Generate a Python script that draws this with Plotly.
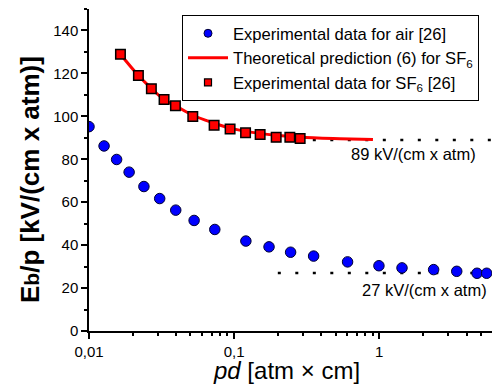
import plotly.graph_objects as go

# Air experimental data
air_pd = [0.01, 0.0127, 0.0155, 0.0189, 0.0239, 0.0307, 0.0396, 0.053, 0.0736, 0.1205,
          0.174, 0.245, 0.353, 0.605, 0.995, 1.435, 2.37, 3.42, 4.72, 5.5]
air_E = [95.2, 86.2, 79.9, 74.0, 67.3, 61.7, 56.3, 51.5, 47.3, 41.9,
         39.2, 36.7, 34.9, 32.2, 30.4, 29.4, 28.6, 27.8, 26.9, 26.9]

# SF6 experimental data
sf6_pd = [0.01647, 0.0219, 0.0269, 0.0329, 0.0394, 0.0519, 0.0728, 0.0938, 0.1199,
          0.1511, 0.1949, 0.2421, 0.2851]
sf6_E = [128.9, 119.0, 112.9, 107.8, 104.9, 99.9, 95.8, 94.1, 92.3,
         91.5, 90.2, 90.2, 89.7]

# Theoretical prediction (6) for SF6
th_pd = [0.01647, 0.0219, 0.0269, 0.0329, 0.0394, 0.0519, 0.0728, 0.0933, 0.1205,
         0.194, 0.284, 0.5345, 0.905]
th_E = [128.9, 119.0, 113.0, 107.8, 105.0, 100.5, 96.8, 94.5, 93.0,
        91.2, 90.3, 89.6, 89.2]

# Asymptote levels
sf6_limit_pd = [0.2, 6.5]
sf6_limit_E = [89, 89]
air_limit_pd = [0.2, 6.5]
air_limit_E = [27, 27]

x_tickvals = [0.01, 0.1, 1]
x_ticktext = ["0,01", "0,1", "1"]
x_minor = [0.02, 0.03, 0.04, 0.05, 0.06, 0.07, 0.08, 0.09,
           0.2, 0.3, 0.4, 0.5, 0.6, 0.7, 0.8, 0.9,
           2, 3, 4, 5, 6]

names = ["Experimental data for air [26]",
         "Theoretical prediction (6) for SF<sub>6</sub>",
         "Experimental data for SF<sub>6</sub> [26]"]

FONT = "Liberation Sans, Arial, sans-serif"

fig = go.Figure()

fig.add_trace(go.Scatter(x=sf6_limit_pd, y=sf6_limit_E, mode="lines",
                         line=dict(color="black", width=2.5, dash="3px,14.5px"),
                         showlegend=False, hoverinfo="skip"))
fig.add_trace(go.Scatter(x=air_limit_pd, y=air_limit_E, mode="lines",
                         line=dict(color="black", width=2.5, dash="3px,14.5px"),
                         showlegend=False, hoverinfo="skip"))

fig.add_trace(go.Scatter(x=air_pd, y=air_E, mode="markers", showlegend=False,
                         marker=dict(symbol="circle", size=10.5, color="#0000FF",
                                     line=dict(color="#000033", width=1))))
fig.add_trace(go.Scatter(x=th_pd, y=th_E, mode="lines", line_shape="spline",
                         showlegend=False, line=dict(color="#FF0000", width=3)))
fig.add_trace(go.Scatter(x=sf6_pd, y=sf6_E, mode="markers", showlegend=False,
                         marker=dict(symbol="square", size=9.5, color="#FF0000",
                                     line=dict(color="black", width=1.5))))

# legend entries (smaller symbols as in the reference legend)
fig.add_trace(go.Scatter(x=[None], y=[None], mode="markers", name=names[0],
                         marker=dict(symbol="circle", size=8, color="#0000FF",
                                     line=dict(color="#000033", width=1))))
fig.add_trace(go.Scatter(x=[None], y=[None], mode="lines", name=names[1],
                         line=dict(color="#FF0000", width=3)))
fig.add_trace(go.Scatter(x=[None], y=[None], mode="markers", name=names[2],
                         marker=dict(symbol="square", size=7, color="#FF0000",
                                     line=dict(color="black", width=1.2))))

fig.update_layout(
    width=492, height=385,
    margin=dict(l=89, r=0, t=9, b=54),
    plot_bgcolor="white", paper_bgcolor="white",
    font=dict(family=FONT, color="black", size=15),
    legend=dict(x=(479 - 89) / 403, y=(331 - 15) / 322, xanchor="right", yanchor="top",
                bordercolor="black", borderwidth=1, bgcolor="white",
                font=dict(size=16.6), tracegroupgap=0, itemwidth=40),
    annotations=[
        dict(text="<b>E<span style='font-size:21px'>b</span>/p [kV/(cm x atm)]</b>",
             xref="paper", yref="paper", x=(30 - 89) / 403, y=(331 - 180) / 322,
             xanchor="center", yanchor="middle", textangle=-90, showarrow=False,
             font=dict(size=26)),
        dict(text="<i>pd</i> [atm × cm]", xref="paper", yref="paper",
             x=(286 - 89) / 403, y=(331 - 370) / 322, xanchor="center", yanchor="middle",
             showarrow=False, font=dict(size=24)),
        dict(text="89 kV/(cm x atm)", xref="x", yref="y", x=0.681, y=82.6,
             xanchor="right", yanchor="middle", showarrow=False, font=dict(size=16.5)),
        dict(text="27 kV/(cm x atm)", xref="x", yref="y", x=0.7566, y=19.1,
             xanchor="right", yanchor="middle", showarrow=False, font=dict(size=16.5)),
    ],
)

fig.update_xaxes(type="log", range=[-2, 0.777], showgrid=False, zeroline=False,
                 showline=True, linecolor="black", linewidth=1.5,
                 tickmode="array", tickvals=x_tickvals, ticktext=x_ticktext,
                 ticks="outside", ticklen=6, tickwidth=1.5, tickcolor="black",
                 minor=dict(tickmode="array", tickvals=x_minor, ticks="outside",
                            ticklen=3.5, tickwidth=1.5, tickcolor="black"))
fig.update_yaxes(range=[0, 150], showgrid=False, zeroline=False,
                 showline=True, linecolor="black", linewidth=1.5,
                 tickmode="linear", tick0=0, dtick=20,
                 ticks="outside", ticklen=6, tickwidth=1.5, tickcolor="black",
                 minor=dict(dtick=10, ticks="outside", ticklen=3.5, tickwidth=1.5,
                            tickcolor="black"))

fig.write_html("out.html")
